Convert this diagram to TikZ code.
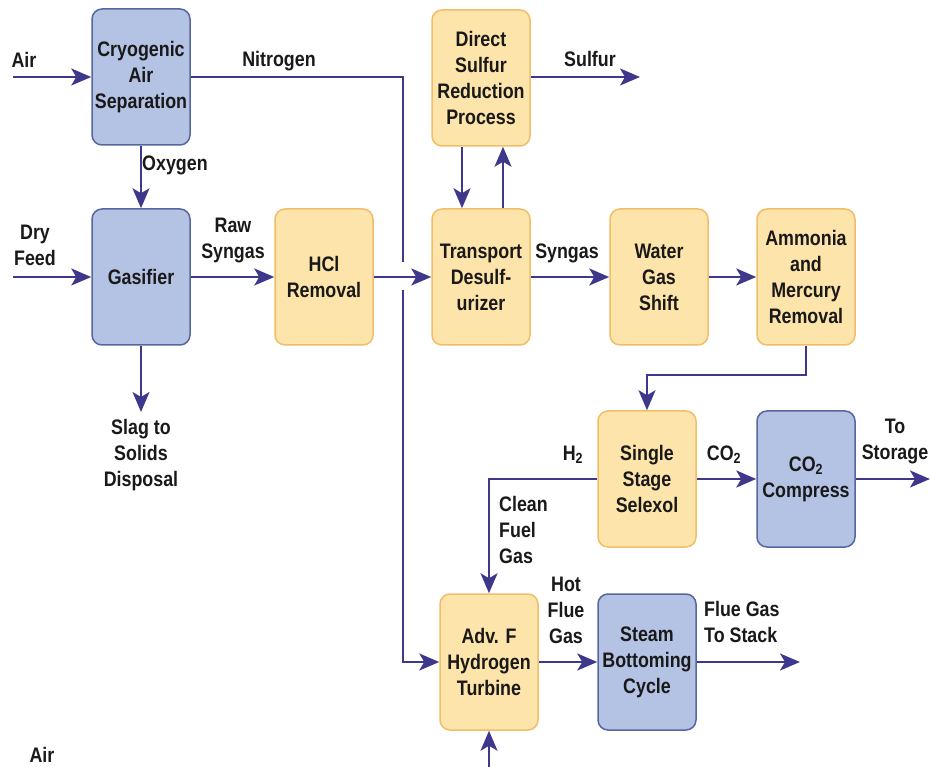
\documentclass[tikz,border=0pt]{standalone}
\usepackage{fontspec}
\setmainfont{Liberation Sans}[FakeStretch=0.85]
\usetikzlibrary{arrows.meta}
\definecolor{flowline}{RGB}{62,56,140}
\definecolor{bluefill}{RGB}{180,194,228}
\definecolor{blueedge}{RGB}{88,102,160}
\definecolor{orangefill}{RGB}{253,228,170}
\definecolor{orangeedge}{RGB}{240,190,105}
\definecolor{labeltext}{RGB}{25,25,25}
\tikzset{
  unit/.style={draw, rounded corners=10pt, line width=1.5pt, minimum width=98pt,
    minimum height=136pt, align=center, inner sep=0pt, text=labeltext,
    font=\fontsize{21}{26}\selectfont\bfseries},
  blueunit/.style={unit, fill=bluefill, draw=blueedge},
  orangeunit/.style={unit, fill=orangefill, draw=orangeedge},
  stream/.style={draw, flowline, line width=2.2pt,
    -{Stealth[length=20pt,width=17pt,inset=5pt]}},
  pipe/.style={draw, flowline, line width=2.2pt},
  streamlabel/.style={align=center, inner sep=0pt, text=labeltext,
    font=\fontsize{21}{26}\selectfont\bfseries}
}
\begin{document}
\begin{tikzpicture}[x=1pt,y=-1pt]
\useasboundingbox (0,0) rectangle (930,767);

\node[blueunit] (cryo) at (141,77) {Cryogenic\\Air\\Separation};
\node[blueunit] (gasifier) at (141,277) {Gasifier};
\node[orangeunit] (hcl) at (324,277) {HCl\\Removal};

\node[orangeunit] (dsrp) at (481,78) {Direct\\Sulfur\\Reduction\\Process};
\node[orangeunit] (tds) at (481,277) {Transport\\Desulf-\\urizer};
\node[orangeunit] (wgs) at (659,277) {Water\\Gas\\Shift};
\node[orangeunit] (amr) at (806,277) {Ammonia\\and\\Mercury\\Removal};

\node[orangeunit] (sel) at (647,479) {Single\\Stage\\Selexol};
\node[blueunit] (co2) at (806,479) {CO\textsubscript{2}\\Compress};
\node[orangeunit] (turb) at (489,662) {Adv. F\\Hydrogen\\Turbine};
\node[blueunit] (steam) at (647,662) {Steam\\Bottoming\\Cycle};

\coordinate (airin) at (13,77);
\coordinate (feedin) at (13,277);
\coordinate (slag) at (141,412);
\coordinate (gapa) at (403,262);
\coordinate (gapb) at (403,290);
\coordinate (sulfur) at (640,77);
\coordinate (storage) at (930,479);
\coordinate (stack) at (800,662);
\coordinate (airbot) at (489,767);

\node[streamlabel] (air) at (24,60) {Air};
\node[streamlabel] (nitrogen) at (279,61) {Nitrogen};
\node[streamlabel, anchor=west] (oxygen) at (142,165) {Oxygen};
\node[streamlabel] (dryfeed) at (35,245) {Dry\\Feed};
\node[streamlabel] (rawsyn) at (233,241) {Raw\\Syngas};
\node[streamlabel] (slagtxt) at (141,455) {Slag to\\Solids\\Disposal};
\node[streamlabel] (sulfurtxt) at (590,59) {Sulfur};
\node[streamlabel] (syngas) at (567,253) {Syngas};
\node[streamlabel] (h2) at (573,455) {H\textsubscript{2}};
\node[streamlabel] (co2txt) at (724,455) {CO\textsubscript{2}};
\node[streamlabel] (storagetxt) at (895,442) {To\\Storage};
\node[streamlabel, align=left, anchor=west] (fuelgas) at (499,530) {Clean\\Fuel\\Gas};
\node[streamlabel] (hotflue) at (566,610) {Hot\\Flue\\Gas};
\node[streamlabel, align=left, anchor=west] (stacktxt) at (704,622) {Flue Gas\\To Stack};
\node[streamlabel] (airbottxt) at (42,755) {Air};

\path[stream] (airin) -- (cryo);
\path[pipe] (cryo.east) -- (403,77) -- (gapa);
\path[stream] (gapb) |- (turb.west);
\path[stream] (cryo) -- (gasifier);
\path[stream] (feedin) -- (gasifier);
\path[stream] (gasifier) -- (hcl);
\path[stream] (gasifier) -- (slag);
\path[stream] (hcl) -- (tds);
\path[stream] (dsrp.south -| 462,0) -- (tds.north -| 462,0);
\path[stream] (tds.north -| 503,0) -- (dsrp.south -| 503,0);
\path[stream] (dsrp.east |- sulfur) -- (sulfur);
\path[stream] (tds) -- (wgs);
\path[stream] (wgs) -- (amr);
\path[stream] (amr.south) -- (806,375) -| (sel.north);
\path[stream] (sel) -- (co2);
\path[stream] (co2) -- (storage);
\path[stream] (sel.west) -| (turb.north);
\path[stream] (turb) -- (steam);
\path[stream] (steam) -- (stack);
\path[stream] (airbot) -- (turb.south);
\end{tikzpicture}
\end{document}
